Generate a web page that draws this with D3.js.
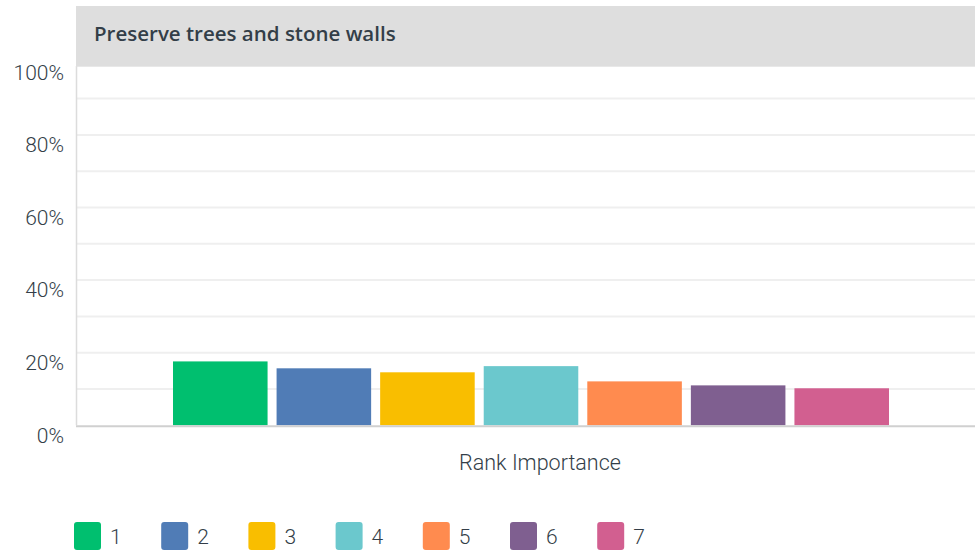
<!DOCTYPE html>
<html><head><meta charset="utf-8">
<script src="https://cdn.jsdelivr.net/npm/d3@7"></script>
<style>
html,body{margin:0;padding:0;background:#fff;}
svg{display:block;font-family:Roboto,"Open Sans",sans-serif;}
</style></head>
<body>
<svg id="chart" width="975" height="552"></svg>
<script>
const title = "Preserve trees and stone walls";
const xAxisTitle = "Rank Importance";
const categories = ["1","2","3","4","5","6","7"];
const values = [17.6, 15.7, 14.6, 16.3, 12.1, 11.0, 10.2];
const colors = ["#00bf6f","#507cb6","#f9be00","#6bc8cd","#ff8b4f","#7f5f90","#d25f90"];
const yTicks = [0, 20, 40, 60, 80, 100];
const gridTicks = [10, 20, 30, 40, 50, 60, 70, 80, 90];

const svg = d3.select("#chart");
const plotLeft = 76, plotRight = 975, plotTop = 62.3, plotBottom = 425.3;
const textColor = "#333e48";

const y = d3.scaleLinear().domain([0, 100]).range([plotBottom, plotTop]);
const x = d3.scaleBand().domain(categories).range([168.5, 893.5])
  .paddingInner(0.087).paddingOuter(0.0435);

// gridlines
svg.append("g").selectAll("line").data(gridTicks).join("line")
  .attr("x1", plotLeft).attr("x2", plotRight)
  .attr("y1", d => y(d)).attr("y2", d => y(d))
  .attr("stroke", "#efefef").attr("stroke-width", 2);

// left axis line
svg.append("line").attr("x1", plotLeft + 0.5).attr("x2", plotLeft + 0.5)
  .attr("y1", 66).attr("y2", plotBottom).attr("stroke", "#dcdcdc").attr("stroke-width", 1.5);

// header band
svg.append("rect").attr("x", plotLeft).attr("y", 6).attr("width", plotRight - plotLeft).attr("height", 60.7)
  .attr("fill", "#dedede");
svg.append("text").attr("x", 94).attr("y", 41).text(title)
  .attr("fill", textColor).attr("font-size", 20.5).attr("font-weight", 600)
  .attr("font-family", "'Open Sans',sans-serif");

// bars
svg.append("g").selectAll("rect").data(values).join("rect")
  .attr("x", (d, i) => x(categories[i]))
  .attr("width", x.bandwidth())
  .attr("y", d => y(d))
  .attr("height", d => y(0) - y(d))
  .attr("fill", (d, i) => colors[i]);

// baseline
svg.append("line").attr("x1", plotLeft).attr("x2", plotRight)
  .attr("y1", plotBottom + 1).attr("y2", plotBottom + 1)
  .attr("stroke", "#d0d0d0").attr("stroke-width", 2);

// y tick labels
svg.append("g").selectAll("text").data(yTicks).join("text")
  .attr("x", 64).attr("y", d => y(d) + 10).attr("dy", "0.35em")
  .attr("text-anchor", "end").attr("fill", textColor).attr("font-size", 21)
  .attr("font-weight", 300)
  .text(d => d + "%");

// x axis title
svg.append("text").attr("x", 540).attr("y", 462).attr("dy", "0.35em")
  .attr("text-anchor", "middle").attr("fill", textColor).attr("font-size", 21.5)
  .attr("font-weight", 300)
  .text(xAxisTitle);

// legend
const leg = svg.append("g").selectAll("g").data(categories).join("g")
  .attr("transform", (d, i) => `translate(${74 + i * 87.2},522)`);
leg.append("rect").attr("width", 27).attr("height", 28).attr("rx", 3).attr("ry", 3)
  .attr("fill", (d, i) => colors[i]);
leg.append("text").attr("x", 36).attr("y", 15).attr("dy", "0.35em")
  .attr("fill", textColor).attr("font-size", 21).attr("font-weight", 300)
  .text(d => d);
</script>
</body></html>
